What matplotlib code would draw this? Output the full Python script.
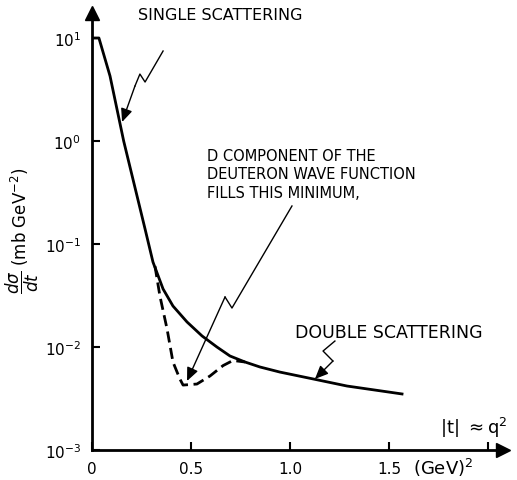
import numpy as np
import matplotlib
matplotlib.use("Agg")
import matplotlib.pyplot as plt

# ---- data ----
single_t = [0.0, 0.035, 0.091, 0.16, 0.268, 0.308, 0.359, 0.409, 0.480, 0.556,
            0.631, 0.697, 0.773, 0.848, 0.949, 1.116, 1.288, 1.566]
single_y = [10.0, 10.0, 4.28, 1.0, 0.140, 0.0668, 0.0366, 0.0250, 0.0175, 0.0128,
            0.0100, 0.00818, 0.00715, 0.0064, 0.00571, 0.0049, 0.00418, 0.0035]

dashed_t = [0.318, 0.343, 0.379, 0.409, 0.444, 0.460, 0.530, 0.596, 0.662, 0.712, 0.773]
dashed_y = [0.0611, 0.0313, 0.0150, 0.00715, 0.00489, 0.00427, 0.00437, 0.00523, 0.00660, 0.00740, 0.00715]

y_ticks = [1e-3, 1e-2, 1e-1, 1e0, 1e1]
y_ticklabels = [r'$10^{-3}$', r'$10^{-2}$', r'$10^{-1}$', r'$10^{0}$', r'$10^{1}$']
x_ticks = [0, 0.5, 1.0, 1.5, 2.0]
x_ticklabels = ['0', '0.5', '1.0', '1.5', '']

# callout paths (data coordinates)
call1_t = [0.359, 0.268, 0.242, 0.217, 0.152]
call1_y = [7.48, 3.74, 4.47, 3.42, 1.53]
call2_t = [1.010, 0.707, 0.672, 0.480]
call2_y = [0.234, 0.0239, 0.0306, 0.00468]
call3_t = [1.227, 1.167, 1.217, 1.126]
call3_y = [0.01143, 0.00914, 0.00731, 0.00489]

W, H = 517, 481
fig = plt.figure(figsize=(W / 100, H / 100), dpi=100)
ax = fig.add_axes([92 / W, 30 / H, 411 / W, 437 / H])
ax.set_yscale('log')
ax.set_xlim(0, 2.076)
ax.set_ylim(1e-3, 10 ** 1.243)

for s in ['top', 'right']:
    ax.spines[s].set_visible(False)
for s in ['left', 'bottom']:
    ax.spines[s].set_linewidth(2.0)
    ax.spines[s].set_color('black')

# axis arrowheads
ax.plot([0], [1], marker='^', markersize=10, color='black', transform=ax.transAxes, clip_on=False)
ax.plot([1], [0], marker='>', markersize=10, color='black', transform=ax.transAxes, clip_on=False)

ax.set_yticks(y_ticks)
ax.set_yticklabels(y_ticklabels)
ax.yaxis.set_minor_locator(matplotlib.ticker.NullLocator())
ax.set_xticks(x_ticks)
ax.set_xticklabels(x_ticklabels)
ax.tick_params(axis='both', direction='in', length=6, width=1.5, labelsize=11, pad=8)

# curves
ax.plot(single_t, single_y, color='black', lw=2.0, solid_joinstyle='round')
ax.plot(dashed_t, dashed_y, color='black', lw=2.0, linestyle=(0, (4, 2)))

# callouts
def callout(ts, ys):
    ax.plot(ts[:-1], ys[:-1], color='black', lw=1.0)
    ax.annotate('', xy=(ts[-1], ys[-1]), xytext=(ts[-2], ys[-2]),
                arrowprops=dict(arrowstyle='-|>,head_length=0.8,head_width=0.35',
                                color='black', lw=1.0, shrinkA=0, shrinkB=0))

callout(call1_t, call1_y)
callout(call2_t, call2_y)
callout(call3_t, call3_y)

ax.text(0.232, 17.1, 'SINGLE SCATTERING', fontsize=11.5, ha='left', va='center', clip_on=False)
ax.text(0.581, 0.86, 'D COMPONENT OF THE\nDEUTERON WAVE FUNCTION\nFILLS THIS MINIMUM,',
        fontsize=10.5, ha='left', va='top', linespacing=1.3)
ax.text(1.025, 0.0140, 'DOUBLE SCATTERING', fontsize=12.5, ha='left', va='center')
ax.text(1.758, 0.00167, r'$|\mathrm{t}|\ \approx \mathrm{q}^2$', fontsize=13, ha='left', va='center', clip_on=False)
ax.text(1.62, 0.000684, r'(GeV)$^2$', fontsize=13, ha='left', va='center', clip_on=False)

fig.text(22 / W, 1 - 231 / H, r'$\dfrac{d\sigma}{dt}$ (mb GeV$^{-2}$)', rotation=90,
         ha='center', va='center', fontsize=12)

fig.savefig('out.png', dpi=100)
